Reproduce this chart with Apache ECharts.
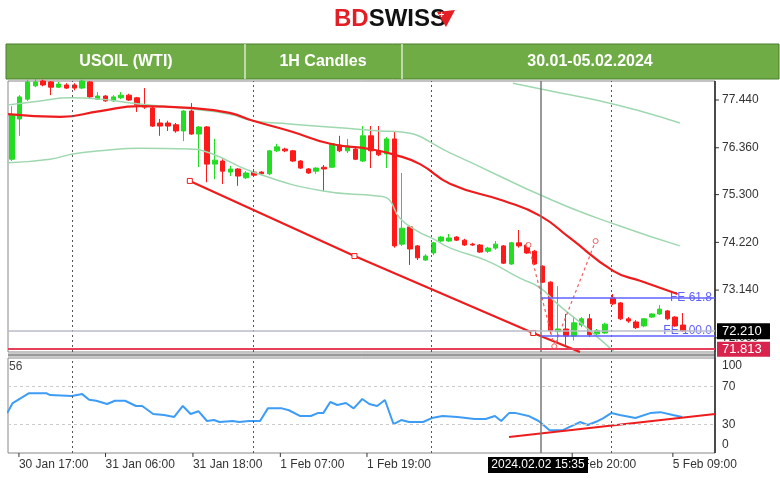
<!DOCTYPE html>
<html><head><meta charset="utf-8">
<script src="https://cdn.jsdelivr.net/npm/echarts@6/dist/echarts.min.js"></script>
<style>html,body{margin:0;padding:0;background:#fff}#c{width:780px;height:492px}</style>
</head><body><div id="c"></div>
<script>
// candles: [open, close, low, high], one per hour
const candles = [
[76.10,77.10,76.06,77.30],[77.01,77.51,76.63,77.55],[77.46,77.85,77.42,77.90],[77.76,77.85,77.73,77.92],
[77.87,77.78,77.75,77.90],[77.85,77.73,77.55,77.87],[77.73,77.80,77.71,77.85],[77.78,77.71,77.69,77.82],
[77.78,77.71,77.66,77.82],[77.71,77.87,77.69,77.90],[77.85,77.51,77.48,77.87],[77.46,77.53,77.44,77.62],
[77.53,77.42,77.40,77.55],[77.42,77.51,77.40,77.55],[77.49,77.55,77.46,77.62],[77.55,77.44,77.42,77.58],
[77.49,77.33,77.17,77.51],[77.33,77.28,77.24,77.71],[77.26,76.85,76.83,77.30],[76.92,76.85,76.63,77.01],
[76.92,76.85,76.74,76.97],[76.88,76.74,76.70,76.92],[76.74,77.19,76.51,77.21],[77.19,76.67,76.65,77.37],
[76.67,76.83,75.92,76.85],[76.83,75.99,75.58,76.85],[75.99,76.08,75.65,76.56],[76.06,75.83,75.54,76.10],
[75.81,75.88,75.72,75.95],[75.88,75.72,75.50,75.90],[75.68,75.79,75.65,75.83],[75.81,75.74,75.70,75.88],
[75.81,75.77,75.74,75.83],[75.77,76.29,75.74,76.31],[76.29,76.38,76.26,76.45],[76.33,76.29,76.26,76.36],
[76.29,76.06,76.04,76.31],[76.06,75.90,75.88,76.08],[75.88,75.79,75.77,75.90],[75.83,75.90,75.77,75.92],
[75.92,75.88,75.38,75.97],[75.92,76.45,75.90,76.47],[76.42,76.29,76.26,76.63],[76.29,76.40,76.24,76.56],
[76.33,76.10,76.08,76.40],[76.06,76.63,76.04,76.85],[76.63,76.29,75.90,76.85],[76.29,76.20,76.17,76.85],
[76.22,76.56,75.90,76.60],[76.56,74.14,74.10,76.74],[74.18,74.54,74.14,75.79],[74.57,74.07,73.71,74.60],
[74.14,73.87,73.82,74.16],[73.82,73.91,73.80,73.95],[73.98,74.21,73.93,74.23],[74.25,74.34,74.23,74.36],
[74.25,74.32,74.23,74.41],[74.34,74.27,74.25,74.36],[74.27,74.16,74.14,74.30],[74.18,74.16,74.14,74.21],
[74.16,74.00,73.98,74.18],[74.02,74.09,73.98,74.12],[74.09,74.18,74.05,74.25],[74.14,73.75,73.73,74.16],
[73.73,74.21,73.71,74.23],[74.21,74.14,74.10,74.50],[74.16,73.98,73.96,74.21],[74.02,73.73,73.71,74.05],
[73.68,73.32,73.30,73.70],[73.32,72.22,72.15,73.34],[72.20,72.26,71.95,73.23],[72.26,72.10,71.90,72.60],
[72.10,72.40,72.00,72.55],[72.35,72.49,72.30,72.53],[72.49,72.13,72.08,72.60],[72.15,72.22,72.10,72.26],
[72.17,72.37,72.15,72.40],[72.96,72.83,72.80,73.05],[72.85,72.49,72.46,72.87],[72.49,72.44,72.40,72.53],
[72.42,72.29,72.26,72.46],[72.33,72.49,72.30,72.51],[72.53,72.60,72.51,72.62],[72.60,72.71,72.58,72.80],
[72.67,72.49,72.46,72.69],[72.53,72.33,72.31,72.55],[72.35,72.22,72.20,72.62]
];
// moving average and bands: [bar index, price]
const maRed = [[-0.5,77.12],[6.2,77.06],[11.3,77.19],[16.4,77.30],[22.8,77.26],[27.9,77.15],[30.9,76.97],[35.6,76.74],[40.8,76.45],[45.9,76.33],[49.1,76.20],[52.3,75.99],[56.2,75.54],[63,75.16],[67.7,74.82],[71.5,74.32],[77.1,73.57],[80.5,73.35],[85.3,73.05]];
const bandUpper = [[-0.5,77.33],[3.6,77.42],[7.4,77.49],[11.3,77.46],[16.4,77.35],[22.8,77.24],[27.9,77.12],[30.9,76.97],[35.6,76.90],[42,76.81],[47.2,76.74],[49.7,76.72],[56.2,76.24],[69.4,75.16],[77.9,74.59],[85.6,74.14]];
const bandLower = [[-0.5,76.02],[4.9,76.10],[7.8,76.22],[11.3,76.29],[16.4,76.35],[22.8,76.33],[25.4,76.24],[30.9,75.81],[39.9,75.38],[46.8,75.27],[48.1,75.22],[49.7,74.77],[51.9,74.48],[54,74.30],[56.2,74.09],[60.9,73.80],[65.1,73.41],[67.7,73.19],[69.9,72.83],[73.7,72.28],[77.1,71.76]];
const bandTop = [[64.2,77.82],[70.3,77.60],[75.4,77.42],[80.5,77.19],[85.6,76.92]];
const channel = [[22.8,75.61],[43.9,73.91],[66.8,72.17],[72.8,71.74]];
const fibPath = [[66.2,74.16],[69.5,71.87],[74.8,74.25]];
const fe618 = 72.96, fe100 = 72.10, lastPrice = 72.21, redLevel = 71.813;
const priceTicks = [77.44,76.36,75.30,74.22,73.14,72.06];
// oscillator
const rsi = [[-0.6,42],[0.1,52.6],[2.2,63],[4.4,63],[4.9,61],[7.7,60],[9.0,62],[9.9,56],[10.8,55],[12.2,51.6],[13.2,55],[14.5,55],[15.9,49.5],[16.7,49.5],[18.1,41],[19.5,40],[20.8,38],[21.9,49.5],[22.9,41],[23.9,44],[25.0,33.7],[25.9,34.7],[26.6,32.6],[28.3,33.7],[29.1,32.6],[30.4,33.7],[31.8,33.7],[32.8,47],[34.6,47],[35.5,45],[36.9,39],[38.3,39],[39.2,42],[39.9,42],[40.8,53.7],[41.7,50.5],[42.8,52.6],[43.8,47],[44.9,56.8],[45.8,51.6],[46.8,49.5],[47.8,55.8],[48.9,30.5],[49.9,34.7],[50.9,32.6],[52.7,32.6],[53.8,36.8],[55.2,39],[57.1,38],[59.3,35.8],[60.7,35.8],[61.9,39],[62.7,33.7],[63.7,42],[64.6,42],[66.2,39],[67.5,33.7],[68.9,24],[70.6,24],[72.8,32.6],[73.8,29.5],[75.1,33.7],[75.8,36.8],[76.8,42],[77.9,40],[79.9,36.8],[81.8,42],[83.1,43],[84.7,40],[85.9,38]];
const rsiTrend = [[63.7,16.8],[90.1,41]];
const rsiTicks = [100,70,30,0];
const daySeps = [7.7,30.9,53.8,76.8];
const cursorIdx = 67.8;
const timeTicks = [[0.9,'30 Jan 17:00'],[12.0,'31 Jan 06:00'],[23.2,'31 Jan 18:00'],[34.4,'1 Feb 07:00'],[45.5,'1 Feb 19:00'],[71.8,'2 Feb 20:00'],[84.7,'5 Feb 09:00']];
const cursorLabel = '2024.02.02 15:35';
const header = ['USOIL (WTI)','1H Candles','30.01-05.02.2024'];

const XMIN=-0.5, XMAX=90.1, F='Liberation Sans, Arial, sans-serif';
const chart = echarts.init(document.getElementById('c'));
const dotted = {color:'#555',type:[2,3],width:1};
function vlines(){return daySeps.map(v=>({xAxis:v,lineStyle:dotted})).concat([{xAxis:cursorIdx,lineStyle:{color:'#777',type:'solid',width:1.5}}]);}
const green='#9fd8b0';
chart.setOption({
  animation:false,
  grid:[{left:8,right:65,top:81,height:271,show:true,borderColor:'#888',borderWidth:1},
        {left:8,right:65,top:358,height:95,show:true,borderColor:'#888',borderWidth:1}],
  xAxis:[{type:'value',gridIndex:0,min:XMIN,max:XMAX,show:false},{type:'value',gridIndex:1,min:XMIN,max:XMAX,show:false}],
  yAxis:[{type:'value',gridIndex:0,min:71.74,max:77.87,position:'right',splitLine:{show:false},axisLabel:{show:false},axisLine:{show:false},axisTick:{show:false}},
         {type:'value',gridIndex:1,min:0,max:100,position:'right',splitLine:{show:false},axisLabel:{show:false},axisLine:{show:false},axisTick:{show:false}}],
  series:[
    {type:'candlestick',xAxisIndex:0,yAxisIndex:0,barWidth:5,data:candles.map((c,i)=>[i].concat(c)),encode:{x:0,y:[1,2,3,4]},
     itemStyle:{color:'#22dd22',color0:'#ff1a1a',borderColor:'#22dd22',borderColor0:'#ff1a1a',borderWidth:1},
     markLine:{silent:true,symbol:'none',label:{show:false},data:vlines().concat([
       {yAxis:lastPrice,lineStyle:{color:'#b8bcc8',type:'solid',width:1.5}},
       {yAxis:redLevel,lineStyle:{color:'#e8405a',type:'solid',width:2}},
       [{coord:[cursorIdx,fe618]},{coord:[XMAX,fe618]}],
       [{coord:[cursorIdx,fe100]},{coord:[XMAX,fe100]}]
     ]),lineStyle:{color:'#6060ff',type:'solid',width:1.5}}},
    {type:'line',data:bandUpper,smooth:true,showSymbol:false,lineStyle:{color:green,width:1.5}},
    {type:'line',data:bandLower,smooth:true,showSymbol:false,lineStyle:{color:green,width:1.5}},
    {type:'line',data:bandTop,smooth:true,showSymbol:false,lineStyle:{color:green,width:1.5}},
    {type:'line',data:maRed,smooth:true,showSymbol:false,lineStyle:{color:'#ee1c1c',width:2.2}},
    {type:'line',data:channel.map((p,i)=>({value:p,symbol:i<3?'rect':'none'})),symbolSize:5,showAllSymbol:true,
     itemStyle:{color:'#fff',borderColor:'#ee1c1c',borderWidth:1},lineStyle:{color:'#ee1c1c',width:2.2}},
    {type:'line',data:fibPath,symbol:'circle',symbolSize:5,itemStyle:{color:'#fff',borderColor:'#f06060'},lineStyle:{color:'#f06060',type:[3,3],width:1.2}},
    {type:'line',xAxisIndex:1,yAxisIndex:1,data:rsi,showSymbol:false,lineStyle:{color:'#3d9cf5',width:2},
     markLine:{silent:true,symbol:'none',label:{show:false},data:vlines().concat([
       {yAxis:70,lineStyle:{color:'#ccc',type:[3,3],width:1}},{yAxis:30,lineStyle:{color:'#ccc',type:[3,3],width:1}}])}},
    {type:'line',xAxisIndex:1,yAxisIndex:1,data:rsiTrend,showSymbol:false,lineStyle:{color:'#ee1c1c',width:2}}
  ]
});
const px = v=>chart.convertToPixel({xAxisIndex:0},v);
const py = v=>chart.convertToPixel({yAxisIndex:0},v);
const ry = v=>chart.convertToPixel({yAxisIndex:1},v);
const g=[];
// logo
g.push({type:'text',left:'center',top:7,style:{rich:{a:{fill:'#e31e24',font:'bold 24px "Liberation Sans Narrow", Arial'},b:{fill:'#111',font:'bold 24px "Liberation Sans Narrow", Arial'}},text:'{a|BD}{b|SWISS}'}});
g.push({type:'polygon',shape:{points:[[437,12],[455,10],[446,27]]},style:{fill:'#e31e24'}});
g.push({type:'text',x:439,y:11,style:{text:'+',fill:'#fff',font:'bold 9px Arial'}});
// header bar
g.push({type:'rect',shape:{x:6,y:44,width:773,height:35},style:{fill:'#6fac46',stroke:'#4b7d2d',lineWidth:1}});
[245,402].forEach(x=>g.push({type:'line',shape:{x1:x,y1:44,x2:x,y2:79},style:{stroke:'#d9e8cc',lineWidth:1.5}}));
[[126,header[0]],[323,header[1]],[590,header[2]]].forEach(([x,t])=>g.push({type:'text',x:x,y:62,style:{text:t,fill:'#fff',font:'bold 16px Arial',align:'center',verticalAlign:'middle'}}));
// price axis labels
priceTicks.forEach(v=>{g.push({type:'text',x:722,y:py(v),style:{text:v.toFixed(3),fill:'#333',font:'12px '+F,verticalAlign:'middle'}});
  g.push({type:'line',shape:{x1:715,y1:py(v),x2:719,y2:py(v)},style:{stroke:'#333'}});});
g.push({type:'rect',shape:{x:717,y:py(lastPrice)-8,width:53,height:16},style:{fill:'#000'}});
g.push({type:'text',x:722,y:py(lastPrice),style:{text:lastPrice.toFixed(3),fill:'#fff',font:'13px '+F,verticalAlign:'middle'}});
g.push({type:'rect',shape:{x:717,y:py(redLevel)-7,width:53,height:15},style:{fill:'#d8234c'}});
g.push({type:'text',x:722,y:py(redLevel)+0.5,style:{text:redLevel.toFixed(3),fill:'#fff',font:'13px '+F,verticalAlign:'middle'}});
g.push({type:'text',x:712,y:py(fe618),style:{text:'FE 61.8',fill:'#6060ff',font:'12px '+F,verticalAlign:'middle',align:'right'}});
g.push({type:'text',x:712,y:py(fe100)-5,style:{text:'FE 100.0',fill:'#6060ff',font:'12px '+F,verticalAlign:'middle',align:'right'}});
// rsi labels
rsiTicks.forEach(v=>{const y=Math.min(Math.max(ry(v),366),445);g.push({type:'text',x:722,y:y,style:{text:String(v),fill:'#333',font:'12px '+F,verticalAlign:'middle'}});});
g.push({type:'text',x:9,y:367,style:{text:'56',fill:'#444',font:'12px '+F,verticalAlign:'middle'}});
// time labels
timeTicks.forEach(([i,t])=>{const x=px(i);g.push({type:'line',shape:{x1:x,y1:453,x2:x,y2:457},style:{stroke:'#333'}});
  g.push({type:'text',x:x,y:465,style:{text:t,fill:'#333',font:'12px '+F,verticalAlign:'middle'}});});
g.push({type:'rect',shape:{x:488,y:457,width:100,height:16},style:{fill:'#000'}});
g.push({type:'text',x:538,y:465,style:{text:cursorLabel,fill:'#fff',font:'12px '+F,align:'center',verticalAlign:'middle'}});
g.push({type:'line',shape:{x1:8,y1:355,x2:715,y2:355},style:{stroke:'#999',lineWidth:3}});
g.push({type:'line',shape:{x1:715,y1:81,x2:715,y2:453},style:{stroke:'#222',lineWidth:1.5}});
chart.setOption({graphic:g});
</script></body></html>
